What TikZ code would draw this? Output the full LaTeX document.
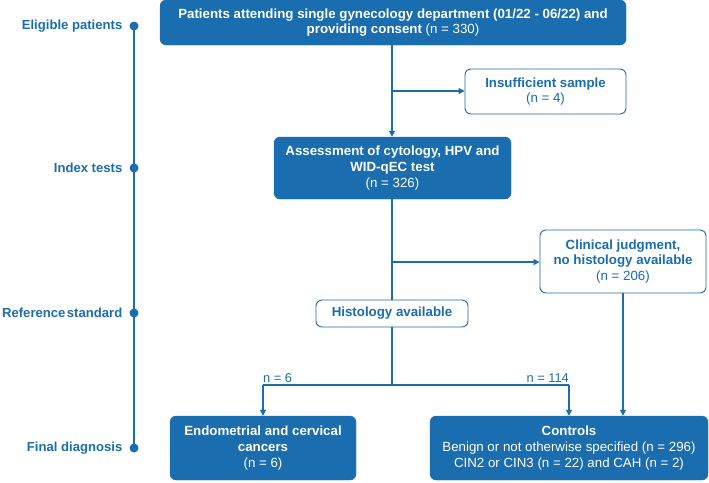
\documentclass[tikz,border=0pt]{standalone}
\usepackage{fontspec}
\setmainfont{Liberation Sans}
\usetikzlibrary{arrows.meta}
\definecolor{bblue}{HTML}{1A6DAE}
\tikzset{
  darkbox/.style={draw=bblue,fill=bblue,rounded corners=6pt,text=white,align=center,inner sep=2pt,font=\fontsize{13.3}{15.8}\selectfont},
  lightbox/.style={draw=bblue,line width=0.9pt,fill=white,rounded corners=6pt,text=bblue,align=center,inner sep=2pt,font=\fontsize{13.3}{15.8}\selectfont},
  conn/.style={draw=bblue,line width=1.5pt},
  arr/.style={conn,-{Triangle[length=6pt,width=6pt]}},
  tl/.style={text=bblue,font=\bfseries\fontsize{13.1}{15}\selectfont,anchor=east,inner sep=0pt},
  tdot/.style={circle,fill=bblue,inner sep=0pt,minimum size=9pt},
  nlab/.style={text=bblue,font=\fontsize{12.8}{14}\selectfont,inner sep=1pt}
}
\begin{document}
\begin{tikzpicture}[x=1pt,y=-1pt]
\useasboundingbox (0,0) rectangle (709,482);
% timeline
\node[tdot] (d1) at (134,26) {};
\node[tdot] (d2) at (134,168) {};
\node[tdot] (d3) at (134,313) {};
\node[tdot] (d4) at (134,448) {};
\draw[conn] (d1.center) -- (d4.center);
\node[tl] (l1) at (122.5,26) {Eligible patients};
\node[tl] (l2) at (122.5,168) {Index tests};
\node[tl] (l3) at (122.5,313) {Reference\hspace{1.5pt}standard};
\node[tl] (l4) at (122.5,448) {Final diagnosis};
% boxes
\node[darkbox,minimum width=466pt,minimum height=45pt] (b1) at (393,22.5)
  {\textbf{Patients attending single gynecology department (01/22 - 06/22) and}\\\textbf{providing consent} (n = 330)};
\node[lightbox,minimum width=161pt,minimum height=45pt] (ins) at (545.5,91.5)
  {\textbf{Insufficient sample}\\(n = 4)};
\node[darkbox,minimum width=237pt,minimum height=62pt] (b2) at (392.5,168)
  {\textbf{Assessment of cytology, HPV and}\\\textbf{WID-qEC test}\\(n = 326)};
\node[lightbox,minimum width=166pt,minimum height=63pt] (cl) at (623,261.5)
  {\textbf{Clinical judgment,}\\\textbf{no histology available}\\(n = 206)};
\node[lightbox,minimum width=152pt,minimum height=27pt] (hi) at (392,313.5)
  {\textbf{Histology available}};
\node[darkbox,minimum width=186pt,minimum height=64pt] (en) at (263,448)
  {\textbf{Endometrial and cervical}\\\textbf{cancers}\\(n = 6)};
\node[darkbox,minimum width=278pt,minimum height=64pt] (co) at (569,448)
  {\textbf{Controls}\\Benign or not otherwise specified (n = 296)\\CIN2 or CIN3 (n = 22) and CAH (n = 2)};
% connectors
\coordinate (j1) at (392,91);
\coordinate (j2) at (392,262);
\coordinate (j3) at (392,385);
\coordinate (jl) at (263,385);
\coordinate (jr) at (569,385);
\draw[arr] (b1.south -| j1) -- (b2.north -| j1);
\draw[arr] (j1) -- (ins.west |- j1);
\draw[conn] (b2.south -| j1) -- (hi.north -| j1);
\draw[arr] (j2) -- (cl.west |- j2);
\draw[conn] (hi.south -| j3) -- (j3);
\draw[conn] (jl) -- (jr);
\draw[arr] (jl) -- (en.north -| jl);
\draw[arr] (jr) -- (co.north -| jr);
\draw[arr] (cl.south) -- (cl.south |- co.north);
\node[nlab,anchor=south west] (n6) at (262,384) {n = 6};
\node[nlab,anchor=south east] (n114) at (570,384) {n = 114};
\end{tikzpicture}
\end{document}
